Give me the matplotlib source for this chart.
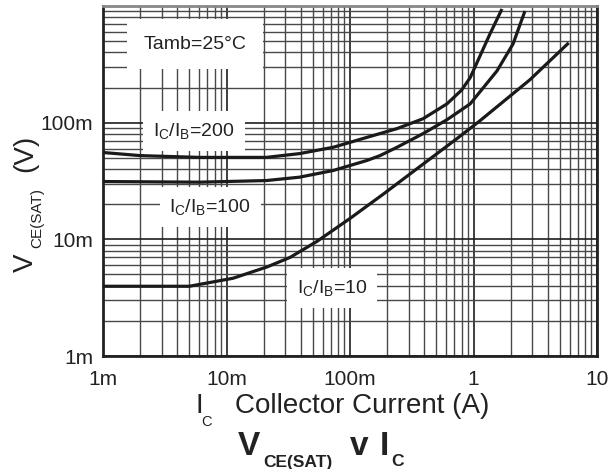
import matplotlib
matplotlib.use("Agg")
import matplotlib.pyplot as plt
from matplotlib.ticker import FixedLocator, LogLocator, NullFormatter

plt.rcParams['font.family'] = ['Liberation Sans', 'DejaVu Sans']
plt.rcParams['mathtext.fontset'] = 'custom'
plt.rcParams['mathtext.rm'] = 'Liberation Sans'
plt.rcParams['mathtext.it'] = 'Liberation Sans:italic'
plt.rcParams['mathtext.bf'] = 'Liberation Sans:bold'

# collector current (A) and Vce(sat) (V) for each forced beta
ic_200 = [0.001, 0.002, 0.006, 0.021, 0.039, 0.073, 0.137, 0.24, 0.39, 0.61, 0.80, 0.94, 1.13, 1.36, 1.70]
vce_200 = [0.0555, 0.0522, 0.0504, 0.0504, 0.0543, 0.0615, 0.0748, 0.0889, 0.108, 0.145, 0.19, 0.243, 0.374, 0.577, 0.943]

ic_100 = [0.001, 0.006, 0.021, 0.039, 0.073, 0.137, 0.175, 0.24, 0.39, 0.61, 0.94, 1.55, 2.09, 2.61]
vce_100 = [0.0313, 0.0309, 0.0319, 0.0341, 0.0389, 0.0474, 0.0522, 0.0615, 0.0805, 0.106, 0.145, 0.278, 0.473, 0.906]

ic_10 = [0.001, 0.005, 0.0113, 0.0213, 0.0327, 0.054, 0.1, 0.185, 0.254, 0.734, 1.13, 2.86, 5.9]
vce_10 = [0.00396, 0.00396, 0.00464, 0.0058, 0.0070, 0.0096, 0.0151, 0.0243, 0.0313, 0.073, 0.104, 0.233, 0.483]

x_ticks = [1e-3, 1e-2, 1e-1, 1, 10]
x_labels = ['1m', '10m', '100m', '1', '10']
y_ticks = [1e-3, 1e-2, 1e-1]
y_labels = ['1m', '10m', '100m']

fig = plt.figure(figsize=(6.08, 4.69), dpi=100)
ax = fig.add_axes([103/608, 1 - 356/469, 494/608, 350/469])
ax.set_xscale('log')
ax.set_yscale('log')
ax.set_xlim(1e-3, 10)
ax.set_ylim(1e-3, 1)

ax.xaxis.set_major_locator(FixedLocator(x_ticks))
ax.set_xticklabels(x_labels)
ax.yaxis.set_major_locator(FixedLocator(y_ticks))
ax.set_yticklabels(y_labels)
ax.xaxis.set_minor_locator(LogLocator(base=10, subs=range(2, 10)))
ax.yaxis.set_minor_locator(LogLocator(base=10, subs=range(2, 10)))
ax.xaxis.set_minor_formatter(NullFormatter())
ax.yaxis.set_minor_formatter(NullFormatter())
ax.tick_params(which='both', length=0, labelsize=15, colors='#222222')
ax.tick_params(axis='x', pad=10)
ax.tick_params(axis='y', pad=7)

ax.grid(which='major', color='#1e1e1e', lw=1.2, zorder=1)
ax.grid(which='minor', color='#484848', lw=1.0, zorder=1)
ax.set_axisbelow(True)
for s in ax.spines.values():
    s.set_linewidth(2.0)
    s.set_color('#222222')
ax.spines['top'].set_color('#888888')

for ic, v in [(ic_200, vce_200), (ic_100, vce_100), (ic_10, vce_10)]:
    ax.plot(ic, v, color='#1a1a1a', lw=2.3, zorder=5, solid_capstyle='butt')

box = dict(facecolor='white', edgecolor='none', pad=7)
ax.text(0.186, 0.891, 'Tamb=25°C', transform=ax.transAxes, ha='center', va='center',
        fontsize=14, color='#222222', bbox=dict(facecolor='white', edgecolor='none', pad=12), zorder=3)
ax.text(0.184, 0.643, r'$\mathregular{I_C/I_B}$=200', transform=ax.transAxes, ha='center', va='center',
        fontsize=14, color='#222222', bbox=box, zorder=3)
ax.text(0.217, 0.426, r'$\mathregular{I_C/I_B}$=100', transform=ax.transAxes, ha='center', va='center',
        fontsize=14, color='#222222', bbox=box, zorder=3)
ax.text(0.464, 0.194, r'$\mathregular{I_C/I_B}$=10', transform=ax.transAxes, ha='center', va='center',
        fontsize=14, color='#222222', bbox=box, zorder=3)


def ftext(px, py, s, size, **kw):
    fig.text(px / 608, 1 - py / 469, s, fontsize=size, ha='left', va='baseline',
             color='#222222', **kw)


# x axis label
ftext(195, 413, 'I', 20)
ftext(201, 426, 'C', 10.5)
ftext(235, 413, 'Collector Current (A)', 20)

# y axis label
rot = dict(rotation=90, rotation_mode='anchor')
ftext(33, 272, 'V', 20, **rot)
ftext(41, 248, 'CE(SAT)', 11, **rot)
ftext(32, 172, '(V)', 20, **rot)

# title
ftext(238, 455, 'V', 24, weight='bold')
ftext(263, 467, 'CE(SAT)', 12.5, weight='bold')
ftext(350, 455, 'v', 24, weight='bold')
ftext(380, 455, 'I', 24, weight='bold')
ftext(391, 466, 'C', 12.5, weight='bold')

fig.savefig('out.png', dpi=100)
